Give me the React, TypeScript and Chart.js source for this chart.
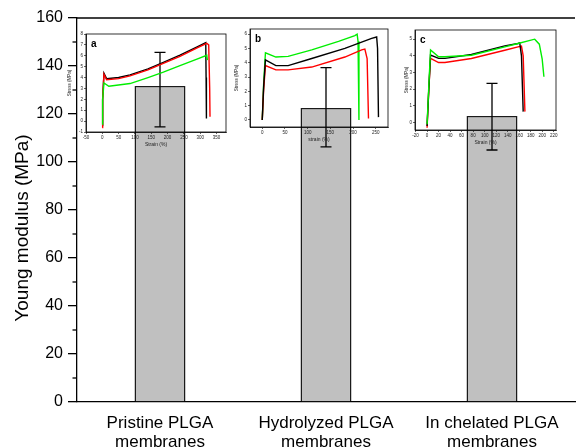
import React, { useEffect, useRef } from "react";
import { Chart, registerables } from "chart.js";

Chart.register(...registerables);

const FONT = '"Liberation Sans", Arial, Helvetica, sans-serif';

// ---------- main bar chart data ----------
const categories = [
  ["Pristine PLGA", "membranes"],
  ["Hydrolyzed PLGA", "membranes"],
  ["In chelated PLGA", "membranes"],
];
const youngModulus = [131.7, 122.5, 119.2];
const errorUpper = [145.7, 139.3, 132.8];
const errorLower = [114.6, 106.3, 105.0];
const yMinorTicks = [10, 30, 50, 70, 90, 110, 130, 150];
const yTitle = "Young modulus (MPa)";

// ---------- inset a (Pristine) ----------
const aBlackStrain = [0, 1, 5, 13, 50, 85, 140, 187, 238, 289, 317, 318, 319];
const aBlackStress = [-0.4, 2, 4.4, 3.9, 4.0, 4.25, 4.8, 5.4, 6.05, 6.8, 7.2, 4, 0.25];
const aRedStrain = [0, 1, 5, 13, 50, 85, 140, 187, 238, 289, 320, 326, 329, 330];
const aRedStress = [-0.6, 2, 4.3, 3.8, 3.9, 4.15, 4.7, 5.3, 5.95, 6.7, 7.15, 7.0, 3, 0.4];
const aGreenStrain = [0, 1, 5, 20, 85, 140, 187, 238, 290, 320, 322];
const aGreenStress = [-0.3, 2, 3.5, 3.2, 3.45, 4.0, 4.5, 5.1, 5.7, 6.05, 5.6];

// ---------- inset b (Hydrolyzed) ----------
const bBlackStrain = [0, 3, 7, 30, 57, 109, 182, 241, 252, 254, 256];
const bBlackStress = [0, 2.3, 4.2, 3.8, 3.8, 4.3, 5.0, 5.7, 5.8, 5.0, 0.2];
const bRedStrain = [0, 3, 7, 30, 57, 109, 182, 219, 226, 231, 234];
const bRedStress = [0, 2.1, 3.8, 3.5, 3.5, 3.7, 4.4, 4.9, 4.95, 4.3, 0.1];
const bGreenStrain = [0, 3, 7, 30, 57, 109, 168, 204, 209, 211, 213];
const bGreenStress = [0, 2.5, 4.7, 4.4, 4.45, 4.9, 5.5, 5.9, 6.0, 5.5, 0];

// ---------- inset c (In chelated) ----------
const cBlackStrain = [0, 3, 6, 20, 31, 77, 135, 158, 161, 164, 167];
const cBlackStress = [-0.2, 2, 4.05, 3.85, 3.85, 4.08, 4.6, 4.74, 4.78, 4.0, 0.66];
const cRedStrain = [0, 3, 6, 20, 31, 77, 135, 158, 164, 167, 170];
const cRedStress = [-0.3, 2, 3.85, 3.6, 3.6, 3.84, 4.34, 4.54, 4.58, 4.0, 0.66];
const cGreenStrain = [0, 3, 6, 20, 31, 77, 135, 158, 187, 195, 200, 203];
const cGreenStress = [-0.1, 2.2, 4.35, 3.95, 3.95, 4.04, 4.54, 4.74, 5.0, 4.7, 3.8, 2.75];

const BLACK = "#000000";
const RED = "#ff0000";
const GREEN = "#00ee00";

type Curve = { strain: number[]; stress: number[]; color: string };

type InsetSpec = {
  letter: string;
  xTitle: string;
  canvas: { left: number; top: number; width: number; height: number };
  frame: { left: number; top: number; right: number; bottom: number };
  xMin: number;
  xMax: number;
  xStep: number;
  yMin: number;
  yMax: number;
  yTitlePad: number;
  xTitlePad: number;
  curves: Curve[];
};

const insets: InsetSpec[] = [
  {
    letter: "a",
    xTitle: "Strain (%)",
    canvas: { left: 58, top: 26, width: 174, height: 126 },
    frame: { left: 86, top: 34, right: 226, bottom: 132 },
    xMin: -50,
    xMax: 379,
    xStep: 50,
    yMin: -1,
    yMax: 8,
    yTitlePad: 9,
    xTitlePad: 4,
    curves: [
      { strain: aGreenStrain, stress: aGreenStress, color: GREEN },
      { strain: aRedStrain, stress: aRedStress, color: RED },
      { strain: aBlackStrain, stress: aBlackStress, color: BLACK },
    ],
  },
  {
    letter: "b",
    xTitle: "strain (%)",
    canvas: { left: 230, top: 22, width: 164, height: 126 },
    frame: { left: 250, top: 29, right: 388, bottom: 127 },
    xMin: -27,
    xMax: 277,
    xStep: 50,
    yMin: -0.49,
    yMax: 6.36,
    yTitlePad: 4,
    xTitlePad: 5,
    curves: [
      { strain: bBlackStrain, stress: bBlackStress, color: BLACK },
      { strain: bRedStrain, stress: bRedStress, color: RED },
      { strain: bGreenStrain, stress: bGreenStress, color: GREEN },
    ],
  },
  {
    letter: "c",
    xTitle: "Strain (%)",
    canvas: { left: 398, top: 24, width: 164, height: 126 },
    frame: { left: 415, top: 30, right: 556, bottom: 130 },
    xMin: -21,
    xMax: 224,
    xStep: 20,
    yMin: -0.44,
    yMax: 5.55,
    yTitlePad: 6,
    xTitlePad: 4.5,
    curves: [
      { strain: cGreenStrain, stress: cGreenStress, color: GREEN },
      { strain: cBlackStrain, stress: cBlackStress, color: BLACK },
      { strain: cRedStrain, stress: cRedStress, color: RED },
    ],
  },
];

const mainDecor = {
  id: "mainDecor",
  afterDatasetsDraw(chart: any) {
    const { ctx, chartArea, scales } = chart;
    const x = scales.x;
    const y = scales.y;
    ctx.save();
    // error bars
    ctx.strokeStyle = "#000";
    ctx.lineWidth = 1.3;
    for (let i = 0; i < youngModulus.length; i++) {
      const cx = x.getPixelForValue(i);
      const yt = y.getPixelForValue(errorUpper[i]);
      const yb = y.getPixelForValue(errorLower[i]);
      ctx.beginPath();
      ctx.moveTo(cx, yt);
      ctx.lineTo(cx, yb);
      ctx.moveTo(cx - 5.5, yt);
      ctx.lineTo(cx + 5.5, yt);
      ctx.moveTo(cx - 5.5, yb);
      ctx.lineTo(cx + 5.5, yb);
      ctx.stroke();
    }
    // top frame line
    ctx.beginPath();
    ctx.moveTo(chartArea.left, chartArea.top);
    ctx.lineTo(chartArea.right, chartArea.top);
    ctx.stroke();
    // minor ticks
    for (const v of yMinorTicks) {
      const py = y.getPixelForValue(v);
      ctx.beginPath();
      ctx.moveTo(chartArea.left - 4.5, py);
      ctx.lineTo(chartArea.left, py);
      ctx.stroke();
    }
    // y title
    ctx.fillStyle = "#000";
    ctx.font = `19px ${FONT}`;
    ctx.textAlign = "center";
    ctx.textBaseline = "middle";
    ctx.translate(23, 228);
    ctx.rotate(-Math.PI / 2);
    ctx.fillText(yTitle, 0, 0);
    ctx.restore();
  },
};

function MainChart() {
  const ref = useRef<HTMLCanvasElement>(null);
  useEffect(() => {
    const chart = new Chart(ref.current as HTMLCanvasElement, {
      type: "bar",
      data: {
        labels: categories as any,
        datasets: [
          {
            data: youngModulus,
            backgroundColor: "#c0c0c0",
            borderColor: "#1a1a1a",
            borderWidth: 1.5,
            barPercentage: 0.307,
            categoryPercentage: 1,
          },
        ],
      },
      options: {
        responsive: false,
        animation: false,
        devicePixelRatio: 1,
        layout: { padding: { top: 18, right: 1, left: 0, bottom: 0 } },
        plugins: { legend: { display: false }, tooltip: { enabled: false } },
        scales: {
          x: {
            grid: { display: false, drawTicks: false },
            border: { display: true, color: "#000", width: 1.3 },
            ticks: {
              font: { family: FONT, size: 17, lineHeight: 1.1 },
              color: "#000",
              padding: 12,
              maxRotation: 0,
              autoSkip: false,
            },
            afterFit: (s: any) => {
              s.height = 45;
            },
          },
          y: {
            min: 0,
            max: 160,
            ticks: {
              stepSize: 20,
              font: { family: FONT, size: 16 },
              color: "#000",
              padding: 5,
            },
            grid: { drawOnChartArea: false, tickLength: 9, color: "#000", lineWidth: 1.3 },
            border: { display: true, color: "#000", width: 1.3 },
            afterFit: (s: any) => {
              s.width = 77;
            },
          },
        },
      } as any,
      plugins: [mainDecor],
    });
    return () => chart.destroy();
  }, []);
  return (
    <canvas
      ref={ref}
      width={576}
      height={447}
      style={{ position: "absolute", left: 0, top: 0, width: 576, height: 447 }}
    />
  );
}

function Inset({ spec }: { spec: InsetSpec }) {
  const ref = useRef<HTMLCanvasElement>(null);
  useEffect(() => {
    const { canvas, frame } = spec;
    const framePlugin = {
      id: "frame" + spec.letter,
      afterDraw(chart: any) {
        const { ctx, chartArea } = chart;
        ctx.save();
        ctx.strokeStyle = "#000";
        ctx.lineWidth = 0.8;
        ctx.strokeRect(
          chartArea.left,
          chartArea.top,
          chartArea.right - chartArea.left,
          chartArea.bottom - chartArea.top
        );
        ctx.fillStyle = "#000";
        ctx.font = `bold 10px ${FONT}`;
        ctx.textAlign = "left";
        ctx.textBaseline = "alphabetic";
        ctx.fillText(spec.letter, chartArea.left + 5, chartArea.top + 13);
        ctx.restore();
      },
    };
    const tickFont = { family: FONT, size: 4.5 };
    const chart = new Chart(ref.current as HTMLCanvasElement, {
      type: "line",
      data: {
        datasets: spec.curves.map((c) => ({
          data: c.strain.map((s, i) => ({ x: s, y: c.stress[i] })),
          borderColor: c.color,
          borderWidth: 1.4,
          pointRadius: 0,
          tension: 0,
          fill: false,
        })),
      },
      options: {
        responsive: false,
        animation: false,
        devicePixelRatio: 1,
        layout: {
          padding: {
            top: frame.top - canvas.top,
            right: canvas.left + canvas.width - frame.right,
            left: 0,
            bottom: 0,
          },
        },
        plugins: { legend: { display: false }, tooltip: { enabled: false } },
        scales: {
          x: {
            type: "linear",
            min: spec.xMin,
            max: spec.xMax,
            ticks: {
              stepSize: spec.xStep,
              includeBounds: false,
              font: tickFont,
              color: "#222",
              padding: 1,
              maxRotation: 0,
              autoSkip: false,
            },
            grid: { drawOnChartArea: false, tickLength: 2, color: "#000", lineWidth: 0.6 },
            border: { color: "#000", width: 0.8 },
            title: {
              display: true,
              text: spec.xTitle,
              font: { family: FONT, size: 5 },
              color: "#222",
              padding: { top: 0, bottom: spec.xTitlePad },
            },
            afterFit: (s: any) => {
              s.height = canvas.top + canvas.height - frame.bottom;
            },
          },
          y: {
            min: spec.yMin,
            max: spec.yMax,
            ticks: {
              stepSize: 1,
              includeBounds: false,
              font: tickFont,
              color: "#222",
              padding: 1,
            },
            grid: { drawOnChartArea: false, tickLength: 2, color: "#000", lineWidth: 0.6 },
            border: { color: "#000", width: 0.8 },
            title: {
              display: true,
              text: "Stress (MPa)",
              font: { family: FONT, size: 4.5 },
              color: "#222",
              padding: { top: spec.yTitlePad, bottom: 0 },
            },
            afterFit: (s: any) => {
              s.width = frame.left - canvas.left;
            },
          },
        },
      } as any,
      plugins: [framePlugin],
    });
    return () => chart.destroy();
  }, [spec]);
  const { canvas } = spec;
  return (
    <canvas
      ref={ref}
      width={canvas.width}
      height={canvas.height}
      style={{
        position: "absolute",
        left: canvas.left,
        top: canvas.top,
        width: canvas.width,
        height: canvas.height,
      }}
    />
  );
}

export default function App() {
  return (
    <div
      style={{
        position: "fixed",
        left: 0,
        top: 0,
        width: 576,
        height: 447,
        background: "#fff",
        overflow: "hidden",
      }}
    >
      <MainChart />
      {insets.map((s) => (
        <Inset key={s.letter} spec={s} />
      ))}
    </div>
  );
}
